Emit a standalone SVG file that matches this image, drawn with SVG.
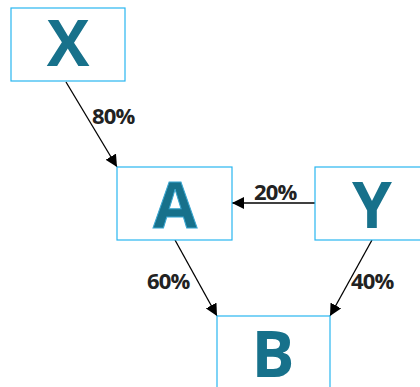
<svg xmlns="http://www.w3.org/2000/svg" width="420" height="387" viewBox="0 0 420 387">
<style>
.box{fill:#fff;stroke:#29b6f0;stroke-width:1.2}
.lt{font-family:"Open Sans","DejaVu Sans",sans-serif;font-weight:700;font-size:64px;fill:#17718b;text-anchor:middle}
.pc{font-family:"Open Sans","DejaVu Sans",sans-serif;font-weight:700;font-size:22px;fill:#222;letter-spacing:-0.8px}
.c{stroke:#000;stroke-width:1.3;fill:none;marker-end:url(#ah)}
</style>
<defs>
<marker id="ah" markerWidth="12" markerHeight="12" refX="12" refY="6" orient="auto" markerUnits="userSpaceOnUse" viewBox="0 0 12 12">
<path d="M0,0 L12,6 L0,12 Z" fill="#000"/>
</marker>
</defs>
<g id="connectors">
<line class="c" x1="66" y1="82" x2="117" y2="167"/>
<line class="c" x1="315" y1="203" x2="232" y2="203"/>
<line class="c" x1="175" y1="240" x2="217" y2="316"/>
<line class="c" x1="372" y1="240" x2="330" y2="316"/>
<text class="pc" x="92" y="124">80%</text>
<text class="pc" x="254" y="200">20%</text>
<text class="pc" x="147" y="289">60%</text>
<text class="pc" x="351" y="289">40%</text>
</g>
<g id="node-X">
<rect class="box" x="11" y="8" width="114" height="73"/>
<text class="lt" x="68" y="66">X</text>
</g>
<g id="node-A">
<rect class="box" x="117" y="167" width="115" height="73"/>
<text class="lt" x="175" y="228" style="stroke:#3aa6d0;stroke-width:1">A</text>
</g>
<g id="node-Y">
<rect class="box" x="315" y="167" width="115" height="73"/>
<text class="lt" x="372" y="228">Y</text>
</g>
<g id="node-B">
<rect class="box" x="217" y="316" width="113" height="73"/>
<text class="lt" x="273" y="377">B</text>
</g>
</svg>
